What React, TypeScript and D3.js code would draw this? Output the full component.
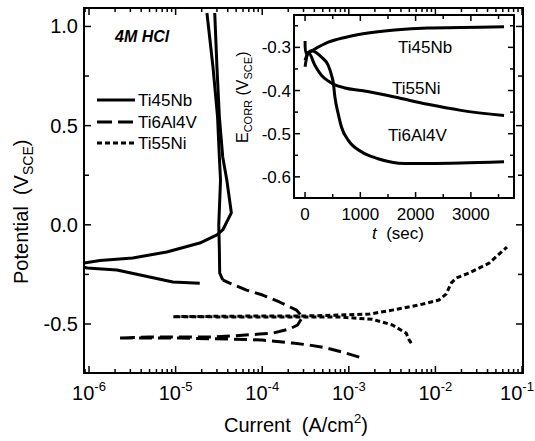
import React from "react";
import * as d3 from "d3";

// polarization curves, current in A/cm2, potential in V(SCE)
// each sweep runs from the cathodic end through Ecorr and up the anodic branch
const ti45nbCurrent = [1.9e-5, 9.3e-6, 5.0e-6, 2.1e-6, 9.5e-7, 7.5e-7, 8.75e-7, 1.34e-6, 3.2e-6, 7.9e-6, 1.9e-5, 3.0e-5, 3.5e-5, 4.4e-5, 4.2e-5, 3.9e-5, 3.5e-5, 3.2e-5, 3.0e-5, 2.83e-5];
const ti45nbPotential = [-0.294, -0.288, -0.263, -0.228, -0.218, -0.205, -0.193, -0.18, -0.167, -0.137, -0.092, -0.051, -0.026, 0.06, 0.125, 0.226, 0.342, 0.544, 0.796, 1.068];

const ti6al4vCurrent = [1.32e-3, 8.4e-4, 5.5e-4, 3.5e-4, 2.24e-4, 1.0e-4, 4.2e-5, 1.1e-5, 5.0e-6, 2.16e-6, 5.0e-6, 1.12e-5, 2.7e-5, 9.3e-5, 1.32e-4, 2.07e-4, 2.56e-4, 2.92e-4, 2.49e-4, 1.58e-4, 1.01e-4, 6.6e-5, 4.2e-5, 3.5e-5, 3.23e-5, 3.2e-5, 3.15e-5, 3.3e-5, 3.2e-5, 3.05e-5, 2.7e-5, 2.3e-5];
const ti6al4vPotential = [-0.667, -0.641, -0.621, -0.606, -0.596, -0.581, -0.576, -0.571, -0.571, -0.571, -0.566, -0.566, -0.566, -0.551, -0.546, -0.525, -0.505, -0.465, -0.43, -0.389, -0.354, -0.329, -0.294, -0.278, -0.243, -0.127, -0.001, 0.226, 0.342, 0.544, 0.796, 1.068];

const ti55niCurrent = [5.26e-3, 4.99e-3, 4.6e-3, 3.18e-3, 1.87e-3, 7.8e-4, 2.7e-4, 7.2e-5, 9.3e-6, 7.2e-5, 2.7e-4, 7.8e-4, 1.73e-3, 3.18e-3, 6.5e-3, 1.1e-2, 1.33e-2, 1.52e-2, 1.74e-2, 2.45e-2, 4.17e-2, 6.7e-2];
const ti55niPotential = [-0.596, -0.581, -0.546, -0.505, -0.476, -0.465, -0.465, -0.465, -0.463, -0.46, -0.46, -0.455, -0.45, -0.43, -0.404, -0.379, -0.349, -0.294, -0.268, -0.243, -0.193, -0.112];

// inset: open circuit potential vs time
const ti45nbTime = [0, 30, 120, 420, 720, 1020, 1620, 2220, 2820, 3600];
const ti45nbEcorr = [-0.285, -0.315, -0.308, -0.288, -0.277, -0.269, -0.26, -0.255, -0.254, -0.252];
const ti55niTime = [0, 60, 180, 300, 420, 510, 720, 1020, 1620, 2220, 2820, 3600];
const ti55niEcorr = [-0.345, -0.312, -0.342, -0.365, -0.378, -0.385, -0.394, -0.4, -0.415, -0.432, -0.446, -0.458];
const ti6al4vTime = [0, 60, 120, 300, 420, 480, 510, 540, 600, 660, 780, 1020, 1320, 1800, 2220, 2820, 3600];
const ti6al4vEcorr = [-0.33, -0.312, -0.308, -0.323, -0.342, -0.365, -0.381, -0.415, -0.454, -0.485, -0.515, -0.542, -0.558, -0.569, -0.569, -0.568, -0.565];

const yMajor = [-0.5, 0, 0.5, 1.0];
const yMinor = [-0.25, 0.25, 0.75];
const decades = [-6, -5, -4, -3, -2, -1];
const insetYMajor = [-0.3, -0.4, -0.5, -0.6];
const insetYMinor = [-0.25, -0.35, -0.45, -0.55];
const insetXMajor = [0, 1000, 2000, 3000];
const insetXMinor = [500, 1500, 2500, 3500];

const FONT = "'Liberation Sans', Arial, sans-serif";
const SP = "\u00a0";
const zip = (a: number[], b: number[]) => a.map((v, i) => [v, b[i]] as [number, number]);

export default function App() {
  const left = 84, right = 523, top = 8, bottom = 373;
  const x = d3.scaleLog().domain([8.75e-7, 0.1027]).range([left, right]);
  const y = d3.scaleLinear().domain([-0.747, 1.093]).range([bottom, top]);
  const line = d3.line<[number, number]>().x((d) => x(d[0])).y((d) => y(d[1]));

  const iL = 294, iR = 514, iT = 15, iB = 198;
  const tx = d3.scaleLinear().domain([-200, 3780]).range([iL, iR]);
  const ty = d3.scaleLinear().domain([-0.649, -0.225]).range([iB, iT]);
  const iline = d3.line<[number, number]>().x((d) => tx(d[0])).y((d) => ty(d[1])).curve(d3.curveMonotoneX);
  const ilineFree = d3.line<[number, number]>().x((d) => tx(d[0])).y((d) => ty(d[1])).curve(d3.curveCatmullRom);

  const xTicks = x.ticks().filter((v) => v >= x.domain()[0] && v <= x.domain()[1]);
  const isDecade = (v: number) => Math.abs(Math.log10(v) - Math.round(Math.log10(v))) < 1e-6;

  const ti6 = zip(ti6al4vCurrent, ti6al4vPotential);
  const split = ti6al4vPotential.findIndex((e) => e > -0.285);

  const sw = 3;

  return (
    <svg width={535} height={441} style={{ position: "absolute", left: 0, top: 0, background: "#fff" }} fontFamily={FONT}>
      <defs>
        <clipPath id="plot">
          <rect x={left} y={top} width={right - left} height={bottom - top} />
        </clipPath>
      </defs>

      {/* curves */}
      <g clipPath="url(#plot)" fill="none" stroke="#000" strokeWidth={sw} strokeLinejoin="round">
        <path d={line(zip(ti45nbCurrent, ti45nbPotential)) || ""} />
        <path d={line(ti6.slice(0, split + 1)) || ""} strokeDasharray="13,6" />
        <path d={line(ti6.slice(split)) || ""} />
        <path d={line(zip(ti55niCurrent, ti55niPotential)) || ""} strokeDasharray="5,3" />
      </g>

      {/* main frame and ticks */}
      <rect x={left} y={top} width={right - left} height={bottom - top} fill="none" stroke="#000" strokeWidth={2} />
      <g stroke="#000" strokeWidth={1.5}>
        {xTicks.map((v) => {
          const len = isDecade(v) ? 7 : 4;
          return (
            <g key={v}>
              <line x1={x(v)} x2={x(v)} y1={bottom} y2={bottom - len} />
              <line x1={x(v)} x2={x(v)} y1={top} y2={top + len} />
            </g>
          );
        })}
        {yMajor.concat(yMinor).map((v) => {
          const len = yMajor.includes(v) ? 7 : 5;
          return (
            <g key={v}>
              <line x1={left} x2={left + len} y1={y(v)} y2={y(v)} />
              <line x1={right} x2={right - len} y1={y(v)} y2={y(v)} />
            </g>
          );
        })}
      </g>
      <g fontSize={20} fill="#000">
        {yMajor.map((v) => (
          <text key={v} x={left - 6} y={y(v) + 7} textAnchor="end">
            {v.toFixed(1)}
          </text>
        ))}
        {decades.map((d) => {
          // keep the last label inside the page edge
          const cx = Math.min(x(Math.pow(10, d)), 517);
          return (
            <text key={d} x={cx} y={400} textAnchor="middle">
              10<tspan dy={-9} fontSize={13}>{d}</tspan>
            </text>
          );
        })}
        <text x={224} y={432}>
          {`Current${SP}${SP}(A/cm`}<tspan dy={-9} fontSize={13}>2</tspan>
          <tspan dy={9}>)</tspan>
        </text>
        <text transform="translate(28,284) rotate(-90)">
          {`Potential${SP}${SP}(V`}<tspan dy={5} fontSize={14}>SCE</tspan>
          <tspan dy={-5}>)</tspan>
        </text>
      </g>

      <text x={115} y={42} fontSize={16} fontWeight="bold" fontStyle="italic">
        4M HCl
      </text>

      {/* legend */}
      <g stroke="#000" strokeWidth={sw}>
        <line x1={97} x2={135} y1={100} y2={100} />
        <line x1={97} x2={135} y1={122} y2={122} strokeDasharray="15,6" />
        <line x1={97} x2={135} y1={143} y2={143} strokeDasharray="5,3" />
      </g>
      <g fontSize={17}>
        <text x={138} y={106}>Ti45Nb</text>
        <text x={138} y={128}>Ti6Al4V</text>
        <text x={138} y={149}>Ti55Ni</text>
      </g>

      {/* inset */}
      <rect x={iL} y={iT} width={iR - iL} height={iB - iT} fill="#fff" stroke="#000" strokeWidth={2} />
      <g fill="none" stroke="#000" strokeWidth={sw} strokeLinejoin="round">
        <path d={ilineFree(zip(ti45nbTime, ti45nbEcorr)) || ""} />
        <path d={iline(zip(ti55niTime, ti55niEcorr)) || ""} />
        <path d={iline(zip(ti6al4vTime, ti6al4vEcorr)) || ""} />
      </g>
      <g stroke="#000" strokeWidth={1.5}>
        {insetXMajor.concat(insetXMinor).map((v) => {
          const len = insetXMajor.includes(v) ? 6 : 4;
          return (
            <g key={v}>
              <line x1={tx(v)} x2={tx(v)} y1={iB} y2={iB - len} />
              <line x1={tx(v)} x2={tx(v)} y1={iT} y2={iT + len} />
            </g>
          );
        })}
        {insetYMajor.concat(insetYMinor).map((v) => {
          const len = insetYMajor.includes(v) ? 6 : 4;
          return (
            <g key={v}>
              <line x1={iL} x2={iL + len} y1={ty(v)} y2={ty(v)} />
              <line x1={iR} x2={iR - len} y1={ty(v)} y2={ty(v)} />
            </g>
          );
        })}
      </g>
      <g fontSize={17}>
        {insetYMajor.map((v) => (
          <text key={v} x={iL - 3} y={ty(v) + 6} textAnchor="end">
            {v.toFixed(1)}
          </text>
        ))}
        {insetXMajor.map((v) => (
          <text key={v} x={tx(v)} y={220} textAnchor="middle">
            {v}
          </text>
        ))}
        <text x={372} y={239}>
          <tspan fontStyle="italic">t</tspan>
          {`${SP}${SP}(sec)`}
        </text>
        <text x={398} y={53}>Ti45Nb</text>
        <text x={392} y={94}>Ti55Ni</text>
        <text x={388} y={141}>Ti6Al4V</text>
      </g>
      <text transform="translate(248,143) rotate(-90)" fontSize={16}>
        E<tspan dy={4} fontSize={11}>CORR</tspan>
        <tspan dy={-4}>{`${SP}(V`}</tspan>
        <tspan dy={4} fontSize={11}>SCE</tspan>
        <tspan dy={-4}>)</tspan>
      </text>
    </svg>
  );
}
